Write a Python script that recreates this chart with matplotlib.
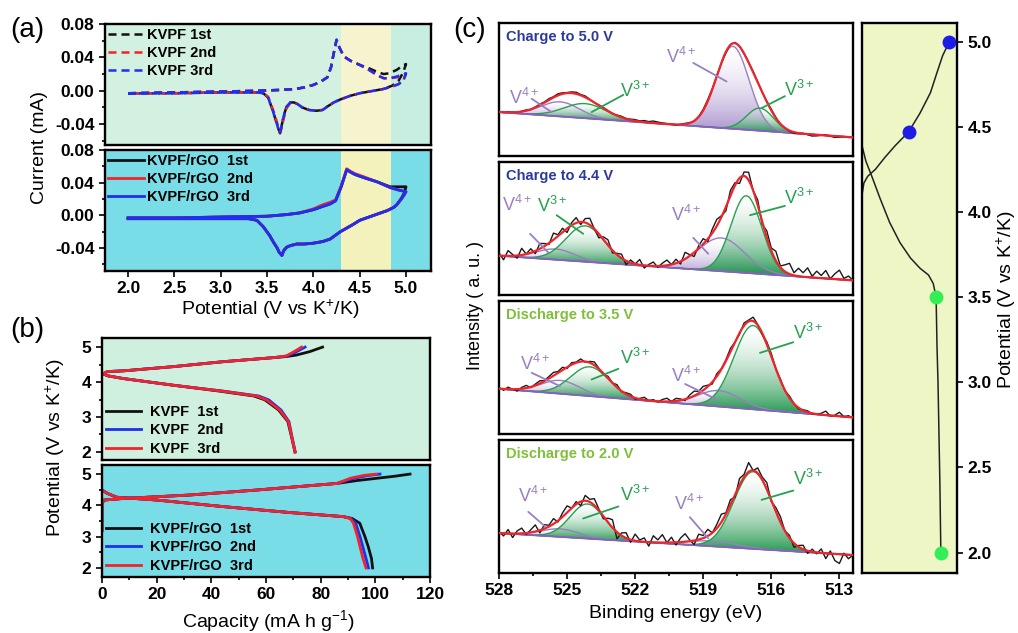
import numpy as np
import matplotlib
matplotlib.use('Agg')
import matplotlib.pyplot as plt
from matplotlib.colors import LinearSegmentedColormap, to_rgba
from matplotlib.ticker import MultipleLocator, FormatStrFormatter, NullLocator
from matplotlib.patches import PathPatch

plt.rcParams['font.family'] = ['Liberation Sans', 'DejaVu Sans']
plt.rcParams['mathtext.fontset'] = 'custom'
plt.rcParams['mathtext.rm'] = 'Liberation Sans'
plt.rcParams['mathtext.it'] = 'Liberation Sans:italic'
plt.rcParams['mathtext.bf'] = 'Liberation Sans:bold'

# ---------------- (a) CV data ----------------
kvpf_v = [2.00, 2.50, 3.00, 3.40, 3.64, 3.80, 3.90, 4.00, 4.08, 4.15, 4.19, 4.22, 4.25, 4.28, 4.33, 4.40, 4.50,
          4.60, 4.70, 4.76, 4.82, 4.90, 4.95, 5.00,
          4.97, 4.92, 4.85, 4.75, 4.60, 4.50, 4.40, 4.30, 4.22, 4.15, 4.10, 4.03, 3.95, 3.88, 3.83, 3.79, 3.75,
          3.71, 3.68, 3.655, 3.64, 3.62, 3.59, 3.55, 3.51, 3.46, 3.40, 3.20, 3.00, 2.50, 2.00]
kvpf_1st = [-0.003, -0.002, -0.001, 0.000, 0.001, 0.002, 0.004, 0.007, 0.011, 0.016, 0.028, 0.045, 0.061, 0.052, 0.041, 0.036, 0.031,
            0.027, 0.022, 0.020, 0.021, 0.025, 0.029, 0.032,
            0.022, 0.012, 0.006, 0.002, -0.001, -0.003, -0.006, -0.010, -0.014, -0.019, -0.023, -0.024, -0.023, -0.020, -0.016, -0.014, -0.014,
            -0.019, -0.030, -0.043, -0.051, -0.045, -0.034, -0.020, -0.008, -0.003, -0.002, -0.002, -0.002, -0.003, -0.003]
kvpf_2nd = [-0.003, -0.002, -0.001, 0.000, 0.001, 0.002, 0.004, 0.007, 0.011, 0.016, 0.028, 0.045, 0.061, 0.052, 0.041, 0.036, 0.031,
            0.025, 0.018, 0.015, 0.015, 0.016, 0.018, 0.020,
            0.012, 0.008, 0.005, 0.002, -0.001, -0.003, -0.006, -0.010, -0.014, -0.019, -0.023, -0.024, -0.023, -0.020, -0.016, -0.014, -0.015,
            -0.021, -0.033, -0.046, -0.050, -0.043, -0.031, -0.018, -0.007, -0.003, -0.002, -0.002, -0.002, -0.003, -0.003]
kvpf_3rd = [-0.003, -0.002, -0.001, 0.000, 0.001, 0.002, 0.004, 0.007, 0.011, 0.016, 0.028, 0.045, 0.061, 0.052, 0.041, 0.036, 0.031,
            0.025, 0.018, 0.015, 0.015, 0.017, 0.019, 0.021,
            0.012, 0.008, 0.005, 0.002, -0.001, -0.003, -0.006, -0.010, -0.014, -0.019, -0.023, -0.024, -0.023, -0.020, -0.016, -0.014, -0.014,
            -0.019, -0.030, -0.043, -0.051, -0.045, -0.034, -0.020, -0.008, -0.003, -0.002, -0.002, -0.002, -0.003, -0.003]

rgo_v = [2.00, 2.50, 3.00, 3.50, 3.71, 3.85, 4.00, 4.10, 4.18, 4.24, 4.30, 4.36, 4.40, 4.45, 4.55, 4.69, 4.83, 4.92, 5.00,
         4.98, 4.95, 4.90, 4.87, 4.80, 4.65, 4.50, 4.43, 4.29, 4.18, 4.10, 4.00, 3.90, 3.82, 3.75, 3.71, 3.68, 3.66,
         3.63, 3.61, 3.57, 3.53, 3.46, 3.39, 3.30, 3.00, 2.50, 2.00]
rgo_1st = [-0.003, -0.003, -0.002, -0.001, 0.001, 0.003, 0.007, 0.011, 0.014, 0.018, 0.035, 0.056, 0.053, 0.050, 0.046, 0.041, 0.035, 0.035, 0.035,
           0.027, 0.021, 0.013, 0.010, 0.006, 0.000, -0.006, -0.011, -0.020, -0.029, -0.032, -0.034, -0.035, -0.035, -0.037, -0.039, -0.043, -0.049,
           -0.045, -0.040, -0.033, -0.025, -0.014, -0.006, -0.004, -0.004, -0.004, -0.004]
rgo_2nd = [-0.003, -0.003, -0.002, -0.001, 0.001, 0.003, 0.008, 0.013, 0.016, 0.019, 0.036, 0.057, 0.054, 0.051, 0.047, 0.041, 0.034, 0.031, 0.029,
           0.025, 0.020, 0.013, 0.010, 0.006, 0.000, -0.006, -0.011, -0.020, -0.029, -0.032, -0.034, -0.035, -0.035, -0.037, -0.039, -0.043, -0.049,
           -0.045, -0.040, -0.033, -0.025, -0.014, -0.006, -0.004, -0.004, -0.004, -0.004]
rgo_3rd = [-0.003, -0.003, -0.002, -0.001, 0.001, 0.003, 0.007, 0.011, 0.014, 0.018, 0.035, 0.056, 0.053, 0.050, 0.046, 0.041, 0.034, 0.031, 0.029,
           0.025, 0.020, 0.013, 0.010, 0.006, 0.000, -0.006, -0.011, -0.020, -0.029, -0.032, -0.034, -0.035, -0.035, -0.037, -0.039, -0.043, -0.049,
           -0.045, -0.040, -0.033, -0.025, -0.014, -0.006, -0.004, -0.004, -0.004, -0.004]

# ---------------- (b) charge/discharge data ----------------
b1_chg_cap = {'1st': [0, 2, 7.8, 26, 44, 63, 67.5, 71, 76, 80.7],
              '2nd': [0, 2, 7.8, 26, 44, 63, 67.5, 71, 74.3],
              '3rd': [0, 2, 7.8, 26, 44, 63, 67.5, 70.5, 73]}
b1_chg_v = {'1st': [4.22, 4.30, 4.32, 4.44, 4.58, 4.70, 4.73, 4.77, 4.87, 5.0],
            '2nd': [4.22, 4.30, 4.32, 4.44, 4.58, 4.70, 4.74, 4.86, 5.0],
            '3rd': [4.22, 4.30, 4.32, 4.44, 4.58, 4.70, 4.75, 4.88, 5.0]}
b1_dis_cap = {'1st': [0, 2, 7.8, 26, 43, 55.6, 59.6, 64.6, 68.0, 69.3, 70.6],
              '2nd': [0, 2, 7.8, 26, 44.5, 57.4, 61.0, 65.5, 68.4, 69.5, 70.7],
              '3rd': [0, 2, 7.8, 26, 44, 56.6, 60.2, 65, 68.2, 69.4, 70.6]}
b1_dis_v = [4.25, 4.18, 4.10, 3.91, 3.74, 3.60, 3.49, 3.20, 2.87, 2.44, 2.0]

b2_chg_cap = {'1st': [0, 0, 0.8, 7.8, 32, 56.6, 85.9, 93, 100, 107, 112.7],
              '2nd': [0, 0, 0.8, 7.8, 32, 56.6, 85.9, 92, 97, 101.7],
              '3rd': [0, 0, 0.8, 7.8, 32, 56.6, 85.9, 91, 96, 100.5]}
b2_chg_v = {'1st': [3.2, 4.06, 4.17, 4.22, 4.33, 4.49, 4.70, 4.79, 4.86, 4.93, 5.0],
            '2nd': [3.2, 4.06, 4.17, 4.22, 4.33, 4.49, 4.70, 4.86, 4.95, 5.0],
            '3rd': [3.2, 4.06, 4.17, 4.22, 4.33, 4.49, 4.70, 4.87, 4.96, 5.0]}
b2_dis_cap = {'1st': [0, 2, 5.4, 20, 44.4, 68.8, 88.3, 91.5, 94.3, 96.2, 97.4, 98.6, 99.0],
              '2nd': [0, 2, 5.4, 20, 44.4, 68.8, 88.3, 91.0, 92.8, 94.4, 95.4, 96.6, 97.5],
              '3rd': [0, 2, 5.4, 20, 44.4, 68.8, 88.3, 90.8, 92.0, 93.5, 94.4, 95.5, 96.6]}
b2_dis_v = [4.49, 4.38, 4.26, 4.17, 3.96, 3.77, 3.64, 3.58, 3.43, 3.0, 2.68, 2.3, 2.0]

# ---------------- (c) XPS data ----------------
xps_titles = ['Charge to 5.0 V', 'Charge to 4.4 V', 'Discharge to 3.5 V', 'Discharge to 2.0 V']
xps_baseline = [(0.33, 0.14), (0.295, 0.11), (0.34, 0.125), (0.30, 0.135)]  # at 528 eV, 512.4 eV
# components: (kind, centre eV, height, fwhm)
xps_components = [
    [('V4+', 525.3, 0.11, 2.0), ('V3+', 524.2, 0.11, 2.2), ('V4+', 517.7, 0.62, 1.7), ('V3+', 516.5, 0.17, 1.4)],
    [('V4+', 525.5, 0.08, 2.0), ('V3+', 524.2, 0.27, 2.0), ('V4+', 518.2, 0.25, 2.4), ('V3+', 517.1, 0.58, 1.6)],
    [('V4+', 525.3, 0.10, 2.0), ('V3+', 524.0, 0.22, 2.0), ('V4+', 518.3, 0.12, 2.2), ('V3+', 516.8, 0.63, 2.0)],
    [('V4+', 525.3, 0.06, 2.0), ('V3+', 524.1, 0.26, 1.8), ('V4+', 518.6, 0.04, 2.5), ('V3+', 516.8, 0.58, 2.0)],
]
# measured-minus-fit residuals of the raw spectra (528 -> 512.4 eV, 0.2 eV steps)
xps_resid = [
    [0.004, -0.003, 0.005, 0.002, -0.004, 0.003, 0.006, -0.002, 0.004, 0.008, 0.005, 0.010, 0.006, 0.012, 0.008, 0.004,
     0.009, 0.012, 0.006, 0.010, 0.004, -0.002, 0.003, 0.006, 0.002, -0.003, 0.004, 0.008, 0.003, 0.006, 0.010, 0.005,
     0.012, 0.008, 0.015, 0.010, 0.006, 0.004, 0.000, -0.004, 0.002, 0.006, 0.004, -0.003, 0.002, 0.008, 0.012, 0.006,
     0.002, -0.004, -0.008, 0.003, 0.006, 0.002, -0.004, 0.003, 0.008, 0.004, -0.002, 0.005, 0.010, 0.004, -0.003, 0.002,
     -0.006, -0.010, -0.004, 0.003, -0.005, -0.012, -0.008, -0.002, 0.004, -0.004, -0.010, -0.006, 0.002, -0.003, 0.001],
    [0.02, -0.03, 0.04, 0.01, -0.02, 0.05, 0.00, 0.03, -0.02, 0.04, 0.02, -0.01, 0.05, 0.01, 0.03, -0.03, 0.02, 0.04,
     -0.02, 0.03, 0.05, 0.00, -0.03, 0.02, 0.04, -0.02, 0.01, 0.03, -0.03, 0.02, 0.00, 0.04, -0.02, 0.01, 0.03, -0.01,
     0.02, 0.04, 0.00, 0.03, -0.02, 0.05, 0.01, -0.03, 0.02, 0.04, -0.02, 0.03, 0.05, 0.01, -0.03, 0.04, 0.02, -0.04,
     0.03, 0.06, 0.00, 0.04, -0.02, 0.05, 0.02, 0.07, 0.01, 0.05, 0.08, 0.02, 0.06, 0.03, 0.07, 0.01, 0.05, 0.02, 0.06,
     0.00, 0.04, 0.07, 0.01, 0.03, 0.00],
    [0.01, -0.01, 0.015, 0.00, -0.015, 0.01, 0.02, -0.005, 0.01, 0.02, 0.005, 0.015, 0.025, 0.01, 0.02, -0.01, 0.015,
     0.005, 0.02, -0.005, 0.01, 0.025, 0.005, -0.01, 0.015, 0.00, 0.02, -0.005, 0.01, 0.015, -0.01, 0.005, 0.02, 0.00,
     0.01, -0.005, 0.015, 0.025, 0.00, 0.02, 0.01, -0.01, 0.02, 0.035, 0.015, 0.03, 0.01, -0.015, 0.02, 0.005, 0.01,
     0.025, 0.00, -0.01, 0.02, 0.01, 0.03, 0.005, -0.01, 0.015, 0.02, 0.00, 0.01, -0.005, 0.015, 0.00, -0.01, 0.005,
     0.01, -0.005, 0.00, 0.01, 0.03, -0.005, 0.005, 0.03, 0.00, 0.01, -0.005],
    [0.01, -0.02, 0.03, -0.03, 0.02, 0.04, -0.01, 0.02, 0.05, -0.02, 0.03, 0.01, 0.04, -0.01, 0.03, 0.05, 0.00, 0.02,
     -0.03, 0.04, 0.02, 0.05, 0.01, -0.02, 0.03, 0.06, -0.05, 0.02, 0.04, -0.02, 0.05, 0.01, 0.03, -0.03, 0.05, 0.02,
     0.06, 0.00, 0.04, -0.02, 0.03, 0.06, 0.01, -0.03, 0.04, 0.02, 0.05, 0.00, 0.03, 0.06, 0.01, 0.04, -0.02, 0.05, 0.02,
     0.07, 0.00, 0.04, 0.02, 0.05, -0.01, 0.03, 0.04, 0.00, 0.02, -0.03, 0.01, 0.03, -0.02, 0.02, -0.01, 0.03, -0.04,
     0.02, -0.05, -0.07, 0.01, -0.03, 0.00],
]
xps_ticks = [528, 525, 522, 519, 516, 513]

# ---------------- right panel: charge/discharge curve ----------------
cur_chg_x = [0, 2, 6, 14, 24, 35, 49, 61, 72, 79, 85, 92]
cur_chg_v = [4.10, 4.17, 4.21, 4.25, 4.32, 4.39, 4.47, 4.58, 4.70, 4.82, 4.92, 5.0]
cur_dis_x = [0, 4, 11, 19, 29, 40, 51, 61, 70, 75, 78, 79, 80, 81, 82, 83]
cur_dis_v = [4.39, 4.30, 4.20, 4.08, 3.94, 3.82, 3.73, 3.67, 3.63, 3.58, 3.50, 3.20, 3.00, 2.70, 2.40, 2.0]
pts_charge_x = [92, 49]
pts_charge_v = [5.0, 4.47]
pts_dis_x = [78, 83]
pts_dis_v = [3.5, 2.0]

# ================= drawing =================
W, H = 1018, 633
fig = plt.figure(figsize=(W / 100, H / 100), dpi=100)
fig.patch.set_facecolor('white')


def ax_px(x0, y0, x1, y1):
    return fig.add_axes([x0 / W, 1 - y1 / H, (x1 - x0) / W, (y1 - y0) / H])


def style(ax):
    for s in ax.spines.values():
        s.set_linewidth(1.7)
    ax.tick_params(which='both', direction='out', width=1.2, labelsize=12.5)
    ax.tick_params(which='major', length=4)
    ax.tick_params(which='minor', length=2.5)
    for lab in ax.get_xticklabels() + ax.get_yticklabels():
        lab.set_fontweight('bold')


BLK, RED, BLU = '#111111', '#f0242a', '#1f2ef0'
mint, yel1, mint2 = '#d3f1e0', '#f5f4cf', '#c8eee2'
cyan, yel2 = '#78dde6', '#f3f2bd'

# ---- (a)
axa1 = ax_px(105, 24, 431, 145)
axa2 = ax_px(105, 150, 431, 271)
for ax, bg in [(axa1, (mint, yel1, mint2)), (axa2, (cyan, yel2, cyan))]:
    ax.axvspan(1.75, 4.3, color=bg[0], lw=0, zorder=0)
    ax.axvspan(4.3, 4.84, color=bg[1], lw=0, zorder=0)
    ax.axvspan(4.84, 5.27, color=bg[2], lw=0, zorder=0)
    ax.set_xlim(1.75, 5.27)
    ax.yaxis.set_major_locator(MultipleLocator(0.04))
    ax.yaxis.set_minor_locator(MultipleLocator(0.02))
    ax.yaxis.set_major_formatter(FormatStrFormatter('%.2f'))
    ax.xaxis.set_major_locator(MultipleLocator(0.5))
    ax.xaxis.set_major_formatter(FormatStrFormatter('%.1f'))
axa1.set_ylim(-0.065, 0.08)
axa2.set_ylim(-0.068, 0.08)
dash = (0, (3.2, 2.0))
axa1.plot(kvpf_v, kvpf_1st, color=BLK, ls=dash, lw=1.8, label='KVPF 1st')
axa1.plot(kvpf_v, kvpf_2nd, color=RED, ls=dash, lw=1.8, label='KVPF 2nd')
axa1.plot(kvpf_v, kvpf_3rd, color=BLU, ls=dash, lw=1.8, label='KVPF 3rd')
axa2.plot(rgo_v, rgo_1st, color=BLK, lw=2.0, label='KVPF/rGO  1st')
axa2.plot(rgo_v, rgo_2nd, color=RED, lw=2.0, label='KVPF/rGO  2nd')
axa2.plot(rgo_v, rgo_3rd, color=BLU, lw=2.0, label='KVPF/rGO  3rd')
axa1.tick_params(axis='x', which='both', bottom=False, labelbottom=False)
for ax in (axa1, axa2):
    ax.legend(loc='upper left', bbox_to_anchor=(0, 0.99), frameon=False, borderaxespad=0,
              borderpad=0.2, labelspacing=0.28, handlelength=2.5, handletextpad=0.2,
              prop={'weight': 'bold', 'size': 10.5})
    style(ax)

fig.text(40 / W, 1 - 148 / H, 'Current (mA)', rotation=90, ha='center', va='center', fontsize=14)
fig.text(270 / W, 1 - 309 / H, 'Potential (V vs K$^{+}$/K)', ha='center', va='center', fontsize=14)

# ---- (b)
axb1 = ax_px(102, 338, 430, 460)
axb2 = ax_px(102, 465, 430, 577)
axb1.set_facecolor('#d0f0df')
axb2.set_facecolor(cyan)
cols = {'1st': BLK, '2nd': BLU, '3rd': RED}
for k in ['1st', '2nd', '3rd']:
    axb1.plot(b1_chg_cap[k], b1_chg_v[k], color=cols[k], lw=2.0)
    axb1.plot(b1_dis_cap[k], b1_dis_v, color=cols[k], lw=2.0, label='KVPF  ' + k)
    axb2.plot(b2_chg_cap[k], b2_chg_v[k], color=cols[k], lw=2.0)
    axb2.plot(b2_dis_cap[k], b2_dis_v, color=cols[k], lw=2.0, label='KVPF/rGO  ' + k)
axb1.set_ylim(1.77, 5.26)
axb2.set_ylim(1.71, 5.29)
for ax in (axb1, axb2):
    ax.set_xlim(0, 120)
    ax.yaxis.set_major_locator(MultipleLocator(1))
    ax.yaxis.set_minor_locator(MultipleLocator(0.5))
    ax.xaxis.set_major_locator(MultipleLocator(20))
    ax.xaxis.set_minor_locator(MultipleLocator(10))
    ax.legend(loc='lower left', bbox_to_anchor=(0.0, 0.0), frameon=False, borderaxespad=0.1,
              borderpad=0.2, labelspacing=0.3, handlelength=2.4, handletextpad=0.6,
              prop={'weight': 'bold', 'size': 10.5})
axb1.tick_params(axis='x', which='both', bottom=False, labelbottom=False)
for ax in (axb1, axb2):
    style(ax)
fig.text(55 / W, 1 - 448 / H, 'Potential (V vs K$^{+}$/K)', rotation=90, ha='center', va='center', fontsize=14)
fig.text(269 / W, 1 - 621 / H, 'Capacity (mA h g$^{-1}$)', ha='center', va='center', fontsize=14)

# ---- (c) XPS
GREEN, PURP = '#25a150', '#9a7fc2'
cmap_g = LinearSegmentedColormap.from_list('g', [(1, 1, 1, 0.2), to_rgba('#1a9448', 0.95)])
cmap_p = LinearSegmentedColormap.from_list('p', [(1, 1, 1, 0.2), to_rgba('#9a80c4', 0.85)])

label_pos = [
    [('V$^{4+}$', PURP, 526.9, 0.44, 526.56, 0.43, 525.68, 0.33),
     ('V$^{3+}$', GREEN, 522.0, 0.49, 522.52, 0.46, 523.92, 0.33),
     ('V$^{4+}$', PURP, 519.96, 0.745, 519.44, 0.70, 517.97, 0.56),
     ('V$^{3+}$', GREEN, 514.78, 0.50, 515.4, 0.45, 516.43, 0.36)],
    [('V$^{4+}$', PURP, 527.19, 0.68, 526.63, 0.46, 525.83, 0.32),
     ('V$^{3+}$', GREEN, 525.67, 0.67, 525.46, 0.60, 524.29, 0.46),
     ('V$^{4+}$', PURP, 519.76, 0.60, 519.44, 0.43, 518.78, 0.31),
     ('V$^{3+}$', GREEN, 514.78, 0.73, 515.4, 0.67, 516.94, 0.60)],
    [('V$^{4+}$', PURP, 526.41, 0.53, 526.56, 0.46, 525.31, 0.36),
     ('V$^{3+}$', GREEN, 522.0, 0.57, 522.74, 0.49, 523.92, 0.41),
     ('V$^{4+}$', PURP, 519.76, 0.44, 519.8, 0.376, 518.41, 0.26),
     ('V$^{3+}$', GREEN, 514.39, 0.76, 515.03, 0.69, 516.5, 0.61)],
    [('V$^{4+}$', PURP, 526.5, 0.58, 526.71, 0.46, 525.97, 0.35),
     ('V$^{3+}$', GREEN, 522.0, 0.59, 522.74, 0.50, 524.29, 0.41),
     ('V$^{4+}$', PURP, 519.63, 0.52, 519.59, 0.42, 518.78, 0.26),
     ('V$^{3+}$', GREEN, 514.39, 0.71, 515.03, 0.62, 516.43, 0.55)],
]
title_cols = ['#2b3a9c', '#2b3a9c', '#7fbf3a', '#7fbf3a']

be = np.linspace(528, 512.4, 400)
tops = [23, 162, 301, 440]
for i in range(4):
    ax = ax_px(499, tops[i], 853, tops[i] + 133)
    b0, b1 = xps_baseline[i]
    base = np.interp(be, [512.4, 528], [b1, b0])
    env = base.copy()
    for kind, c, a, w in xps_components[i]:
        comp = a * np.exp(-4 * np.log(2) * ((be - c) / w) ** 2)
        env = env + comp
        top = base + comp
        m = comp > 0.004
        poly = ax.fill_between(be[m], base[m], top[m], facecolor='none', edgecolor='none')
        patch = PathPatch(poly.get_paths()[0], transform=ax.transData, facecolor='none', edgecolor='none')
        ax.add_patch(patch)
        grad = np.linspace(0, 1, 200).reshape(-1, 1)
        im = ax.imshow(grad, extent=[be[m].max(), be[m].min(), base[m].min(), top[m].max()], aspect='auto',
                       cmap=cmap_g if kind == 'V3+' else cmap_p, origin='upper', zorder=1,
                       interpolation='bilinear')
        im.set_clip_path(patch)
        ax.plot(be, top, color=GREEN if kind == 'V3+' else PURP, lw=1.0, zorder=3)
    ax.plot(be, base, color='#8a5fc0', lw=1.3, zorder=3)
    res = np.array(xps_resid[i])
    be_raw = np.linspace(528, 512.4, len(res))
    raw = np.interp(be_raw, be[::-1], env[::-1]) + res
    ax.plot(be_raw, raw, color='#1a1a1a', lw=1.0, zorder=4)
    ax.plot(be, env, color=RED, lw=1.6, zorder=5)
    for txt, col, tx, ty, lx0, ly0, lx1, ly1 in label_pos[i]:
        ax.text(tx, ty, txt, color=col, fontsize=13, ha='center', va='center', zorder=6)
        ax.annotate('', xy=(lx1, ly1), xytext=(lx0, ly0),
                    arrowprops=dict(arrowstyle='-', color=col, lw=1.3, shrinkA=0, shrinkB=0), zorder=6)
    ax.text(0.02, 0.95, xps_titles[i], transform=ax.transAxes, color=title_cols[i], fontsize=10.5,
            fontweight='bold', ha='left', va='top', zorder=7)
    ax.set_xlim(528, 512.4)
    ax.set_ylim(0, 1)
    ax.yaxis.set_major_locator(NullLocator())
    ax.set_facecolor('white')
    if i < 3:
        ax.xaxis.set_major_locator(NullLocator())
    else:
        ax.set_xticks(xps_ticks)
        ax.xaxis.set_minor_locator(MultipleLocator(1.5))
    style(ax)

fig.text(476 / W, 1 - 305 / H, 'Intensity ( a. u. )', rotation=90, ha='center', va='center', fontsize=13)
fig.text(676 / W, 1 - 614 / H, 'Binding energy (eV)', ha='center', va='center', fontsize=14)

# ---- right panel
axr = ax_px(862, 23, 957, 573)
axr.set_facecolor('#eef6c6')
axr.plot(cur_chg_x, cur_chg_v, color='#222222', lw=1.1)
axr.plot(cur_dis_x, cur_dis_v, color='#222222', lw=1.1)
axr.plot(pts_charge_x, pts_charge_v, 'o', color='#1c1ce6', ms=9, zorder=5)
axr.plot(pts_dis_x, pts_dis_v, 'o', color='#33ee55', ms=9, zorder=5)
axr.set_xlim(0, 100)
axr.set_ylim(1.88, 5.11)
axr.xaxis.set_major_locator(NullLocator())
axr.yaxis.tick_right()
axr.yaxis.set_major_locator(MultipleLocator(0.5))
axr.yaxis.set_major_formatter(FormatStrFormatter('%.1f'))
style(axr)
fig.text(1006 / W, 1 - 300 / H, 'Potential (V vs K$^{+}$/K)', rotation=90, ha='center', va='center', fontsize=14)

# panel letters
fig.text(10 / W, 1 - 30 / H, '(a)', fontsize=20, ha='left', va='center')
fig.text(10 / W, 1 - 330 / H, '(b)', fontsize=20, ha='left', va='center')
fig.text(453 / W, 1 - 30 / H, '(c)', fontsize=20, ha='left', va='center')

fig.savefig('out.png', dpi=100)
